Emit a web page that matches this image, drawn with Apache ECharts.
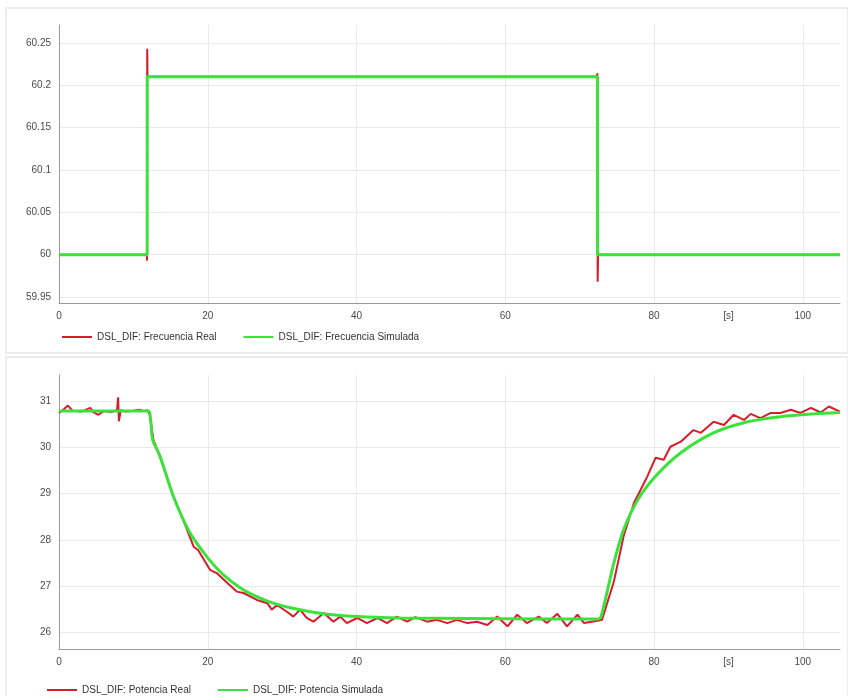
<!DOCTYPE html>
<html>
<head>
<meta charset="utf-8">
<script src="https://cdn.jsdelivr.net/npm/echarts@6/dist/echarts.min.js"></script>
<style>html,body{margin:0;padding:0;background:#fff}#c{width:848px;height:696px}</style>
</head>
<body>
<div id="c"></div>
<script>
// ---- Data ----
const xTickLabels = [0, 20, 40, 60, 80, 90, 100];
const xUnitLabel = '[s]';
const freqLegend = ['DSL_DIF: Frecuencia Real', 'DSL_DIF: Frecuencia Simulada'];
const powLegend = ['DSL_DIF: Potencia Real', 'DSL_DIF: Potencia Simulada'];

const freqRealT = [0, 11.8, 11.83, 11.86, 11.9, 72.35, 72.38, 72.42, 72.48, 105];
const freqRealV = [60, 60, 59.993, 60.243, 60.21, 60.21, 60.214, 59.968, 60, 60];
const freqSimT = [0, 11.85, 11.86, 72.4, 72.41, 105];
const freqSimV = [60, 60, 60.21, 60.21, 60, 60];

const powRealT = [0, 0.5, 1.2, 1.8, 3, 4.2, 4.6, 5.3, 6, 7, 7.8, 7.95, 8.05, 8.3, 9, 10, 10.8, 11.4, 11.9,
  12.2, 12.7, 13.6, 15.4, 16.7, 18.1, 18.7, 20.3, 21.2, 22.6, 23.9, 24.8, 26.6, 28.0, 28.6, 29.3, 30.6, 31.5, 32.4, 33.3,
  34.2, 35.6, 36.9, 37.8, 38.7, 40.1, 41.4, 42.8, 44.1, 45.4, 46.8, 47.9, 49.5, 50.8, 52.2, 53.5, 54.9, 56.2, 57.6, 58.9,
  60.3, 61.6, 62.9, 64.5, 65.6, 67.0, 68.3, 69.7, 70.6, 72.4,
  73.0, 74.6, 75.9, 77.3, 78.2, 79.1, 80.2, 81.3, 82.2, 83.6, 85.3, 86.3, 88.0, 89.4, 90.7, 92.1, 93.0, 94.3, 95.7, 97.0,
  98.4, 99.7, 101.1, 102.4, 103.5, 105];
const powRealV = [30.74, 30.80, 30.90, 30.79, 30.77, 30.85, 30.76, 30.70, 30.78, 30.76, 30.80, 31.08, 30.56, 30.80, 30.77, 30.79, 30.81, 30.78, 30.80,
  30.70, 30.16, 29.78, 28.93, 28.43, 27.85, 27.78, 27.35, 27.28, 27.07, 26.88, 26.85, 26.70, 26.63, 26.49, 26.59, 26.45, 26.34, 26.49, 26.31,
  26.23, 26.42, 26.23, 26.34, 26.20, 26.31, 26.20, 26.31, 26.20, 26.34, 26.23, 26.33, 26.23, 26.27, 26.20, 26.27, 26.20, 26.23, 26.16, 26.34,
  26.13, 26.38, 26.20, 26.34, 26.20, 26.40, 26.13, 26.38, 26.20, 26.25,
  26.27, 27.10, 28.07, 28.80, 29.08, 29.37, 29.77, 29.73, 30.01, 30.12, 30.37, 30.31, 30.55, 30.48, 30.70, 30.59, 30.72, 30.63, 30.74, 30.74,
  30.81, 30.74, 30.85, 30.75, 30.88, 30.77];

const powSimT = [0, 12, 12.3, 12.6, 13.6, 15.4, 17.6, 20, 22.1, 24.4, 26.6, 28.8, 31.1, 35.5, 40.1, 45.9, 55, 65, 72.5,
  72.9, 74.6, 75.9, 77.8, 80.2, 83.6, 88.0, 92.6, 97.0, 101.5, 105];
const powSimV = [30.78, 30.78, 30.62, 30.16, 29.80, 28.93, 28.15, 27.61, 27.24, 26.96, 26.77, 26.63, 26.53, 26.40, 26.34, 26.31, 26.30, 26.29, 26.29,
  26.35, 27.50, 28.21, 28.86, 29.37, 29.88, 30.31, 30.55, 30.66, 30.72, 30.75];

// ---- Build ----
const zip = (t, v) => t.map((x, i) => [x, v[i]]);
const RED = '#d81c2a', GREEN = '#3ce23c';
const txt = '#4a4a4a', font = 'Liberation Sans, Arial, sans-serif';

function xAxis(gi) {
  return {
    type: 'value', gridIndex: gi, min: 0, max: 105,
    axisLine: { lineStyle: { color: '#9a9a9a', width: 1 } },
    axisTick: { show: false },
    axisLabel: { customValues: xTickLabels, formatter: v => v === 90 ? xUnitLabel : String(v),
      color: txt, fontSize: 10, fontFamily: font, margin: 8 },
    splitLine: { show: true, showMaxLine: false, showMinLine: false, lineStyle: { color: '#e9e9e9' } }
  };
}
function yAxis(gi, mn, mx) {
  return {
    type: 'value', gridIndex: gi, min: mn, max: mx,
    axisLine: { show: true, lineStyle: { color: '#9a9a9a' } },
    axisTick: { show: false },
    axisLabel: { showMinLabel: false, showMaxLabel: false, color: txt, fontSize: 10, fontFamily: font, margin: 8 },
    splitLine: { show: true, showMaxLine: false, showMinLine: false, lineStyle: { color: '#e9e9e9' } }
  };
}
function line(name, data, color, w, xi, z, smooth) {
  return { name, type: 'line', xAxisIndex: xi, yAxisIndex: xi, data, showSymbol: false, symbol: 'none',
    smooth: smooth || false,
    lineStyle: { color, width: w }, itemStyle: { color }, z, animation: false };
}

const chart = echarts.init(document.getElementById('c'), null, { renderer: 'canvas' });
chart.setOption({
  backgroundColor: '#fff',
  animation: false,
  graphic: [
    { type: 'rect', shape: { x: 6, y: 8, width: 842, height: 345 }, style: { fill: 'none', stroke: '#ececec', lineWidth: 2 }, silent: true },
    { type: 'rect', shape: { x: 6, y: 357, width: 842, height: 345 }, style: { fill: 'none', stroke: '#ececec', lineWidth: 2 }, silent: true }
  ],
  grid: [
    { left: 59, right: 8, top: 25, bottom: 393 },
    { left: 59, right: 8, top: 375, bottom: 47 }
  ],
  legend: [
    { data: freqLegend, left: 57, top: 327, icon: 'rect', itemWidth: 30, itemHeight: 2, itemGap: 27,
      textStyle: { color: '#333', fontSize: 10, fontFamily: font } },
    { data: powLegend, left: 42, top: 680, icon: 'rect', itemWidth: 30, itemHeight: 2, itemGap: 27,
      textStyle: { color: '#333', fontSize: 10, fontFamily: font } }
  ],
  xAxis: [xAxis(0), xAxis(1)],
  yAxis: [yAxis(0, 59.943, 60.271), yAxis(1, 25.64, 31.56)],
  series: [
    line(freqLegend[0], zip(freqRealT, freqRealV), RED, 2, 0, 2),
    line(freqLegend[1], zip(freqSimT, freqSimV), GREEN, 3, 0, 3),
    line(powLegend[0], zip(powRealT, powRealV), RED, 2, 1, 2),
    line(powLegend[1], zip(powSimT, powSimV), GREEN, 3, 1, 3, 0.3)
  ]
});
</script>
</body>
</html>
